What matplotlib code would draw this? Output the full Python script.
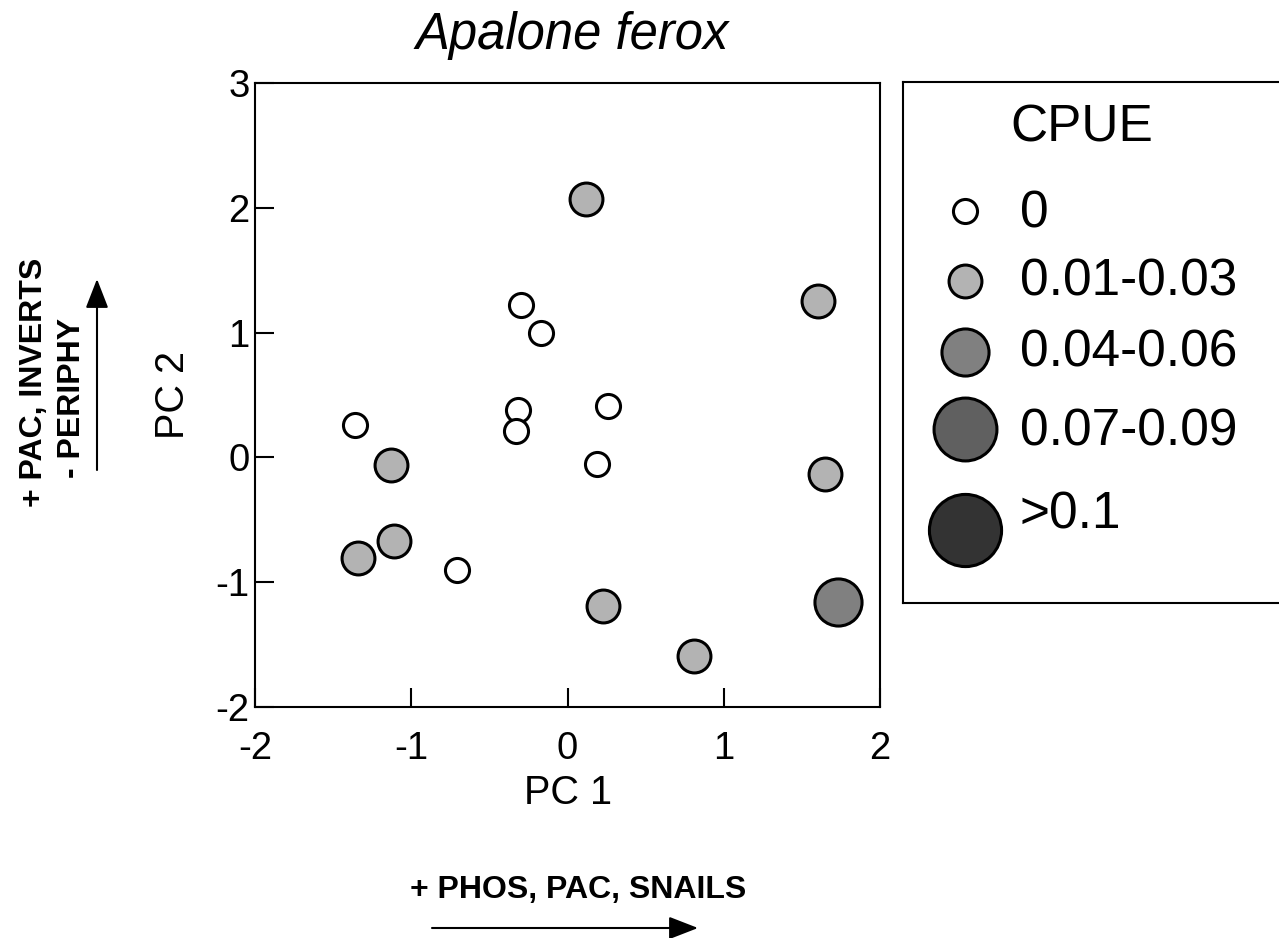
import matplotlib
matplotlib.use('Agg')
import matplotlib.pyplot as plt
from matplotlib.patches import FancyArrowPatch

plt.rcParams['font.family'] = ['Liberation Sans', 'DejaVu Sans']

# ── 데이터 ──
pc1 = [0.12, 1.60, -0.30, -0.17, 0.26, -0.32, -0.33, -1.36, -1.13, 0.19,
       1.65, -1.11, -1.34, -0.71, 0.23, 1.73, 0.81]
pc2 = [2.07, 1.25, 1.22, 1.00, 0.41, 0.38, 0.21, 0.26, -0.06, -0.05,
       -0.13, -0.67, -0.81, -0.90, -1.19, -1.16, -1.59]
cpue_class = [1, 1, 0, 0, 0, 0, 0, 0, 1, 0,
              1, 1, 1, 0, 1, 2, 1]

class_labels = ['0', '0.01-0.03', '0.04-0.06', '0.07-0.09', '>0.1']
class_colors = ['white', '#b3b3b3', '#808080', '#606060', '#333333']
class_sizes = [300, 560, 1150, 2050, 2700]

x_ticks = [-2, -1, 0, 1, 2]
y_ticks = [-2, -1, 0, 1, 2, 3]

W, H = 1279, 938
fig = plt.figure(figsize=(W / 100, H / 100), dpi=100)

# 본 산점도
ax = fig.add_axes([255 / W, 1 - 707 / H, 625 / W, 624 / H])
for k in range(len(class_labels)):
    idx = [i for i, c in enumerate(cpue_class) if c == k]
    if not idx:
        continue
    ax.scatter([pc1[i] for i in idx], [pc2[i] for i in idx],
               s=class_sizes[k], c=class_colors[k], edgecolors='black',
               linewidths=2.2, zorder=3, clip_on=False)

ax.set_xlim(-2, 2)
ax.set_ylim(-2, 3)
ax.set_xticks(x_ticks)
ax.set_yticks(y_ticks)
ax.set_xticklabels([str(t) for t in x_ticks])
ax.set_yticklabels([str(t) for t in y_ticks])
ax.tick_params(direction='in', length=14, width=1.5, labelsize=27.5)
ax.tick_params(axis='y', pad=4)
ax.tick_params(axis='x', pad=17)
for sp in ax.spines.values():
    sp.set_linewidth(1.5)
ax.set_xlabel('PC 1', fontsize=28.5, va='center')
ax.xaxis.set_label_coords(0.5, (707 - 793) / 624)
ax.set_ylabel('PC 2', fontsize=28.5, va='center')
ax.yaxis.set_label_coords((173 - 255) / 625, 0.5)
fig.text(572 / W, 1 - 36 / H, 'Apalone ferox', fontsize=36.5, style='italic',
         ha='center', va='center')

# 범례 박스 (픽셀 좌표)
lax = fig.add_axes([903 / W, 1 - 603 / H, 460 / W, 521 / H])
lax.set_xlim(903, 1363)
lax.set_ylim(603, 82)
lax.set_xticks([])
lax.set_yticks([])
for sp in lax.spines.values():
    sp.set_linewidth(1.5)
lax.text(1082, 128, 'CPUE', fontsize=37, ha='center', va='center')
mark_y = [211, 281, 352, 429, 530]
text_y = [214, 282, 353, 432, 515]
for k in range(len(class_labels)):
    lax.scatter([965], [mark_y[k]], s=class_sizes[k], c=class_colors[k],
                edgecolors='black', linewidths=2.2, clip_on=False)
    lax.text(1020, text_y[k], class_labels[k], fontsize=37, ha='left', va='center')

# 축 방향 주석
arrow_kw = dict(transform=fig.transFigure,
                arrowstyle='-|>,head_length=0.9,head_width=0.35',
                mutation_scale=20, color='black', linewidth=1.5,
                shrinkA=0, shrinkB=0)

fig.text(578 / W, 1 - 890 / H, '+ PHOS, PAC, SNAILS', fontsize=23,
         fontweight='bold', ha='center', va='center')
fig.add_artist(FancyArrowPatch((432 / W, 1 - 928 / H), (698 / W, 1 - 928 / H), **arrow_kw))

fig.text(34 / W, 1 - 382 / H, '+ PAC, INVERTS', fontsize=23, fontweight='bold',
         rotation=90, ha='center', va='center')
fig.text(72 / W, 1 - 398 / H, '- PERIPHY', fontsize=23, fontweight='bold',
         rotation=90, ha='center', va='center')
fig.add_artist(FancyArrowPatch((97 / W, 1 - 470 / H), (97 / W, 1 - 279 / H), **arrow_kw))

fig.savefig('out.png', dpi=100)
